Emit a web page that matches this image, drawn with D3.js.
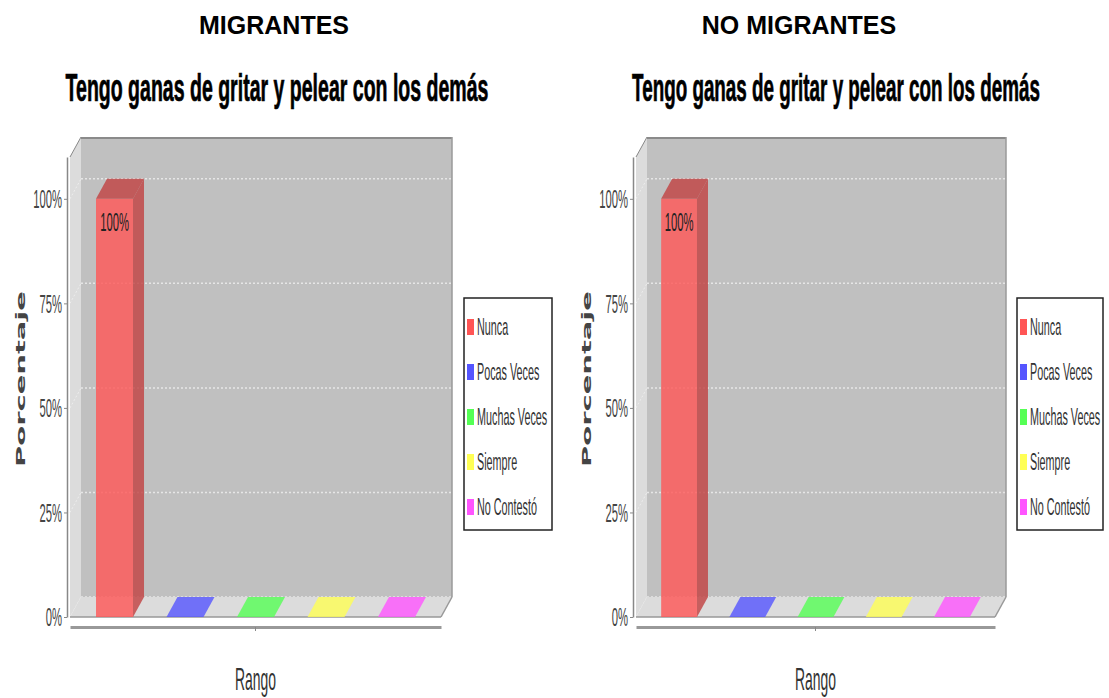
<!DOCTYPE html>
<html><head><meta charset="utf-8">
<script src="https://cdn.jsdelivr.net/npm/d3@7"></script>
<style>body{margin:0;background:#fff}svg{display:block}</style>
</head><body>
<svg id="c" width="1109" height="698"></svg>
<script>
const categories = ["Nunca", "Pocas Veces", "Muchas Veces", "Siempre", "No Contestó"];
const migrantesValues = [100, 0, 0, 0, 0];
const noMigrantesValues = [100, 0, 0, 0, 0];
const seriesColors = ["#ff5555", "#5555ff", "#55ff55", "#ffff55", "#ff55ff"];
const yTickValues = [0, 25, 50, 75, 100];
const yTickLabels = ["0%", "25%", "50%", "75%", "100%"];
const headings = ["MIGRANTES", "NO MIGRANTES"];
const chartTitle = "Tengo ganas de gritar y pelear con los demás";
const yAxisLabel = "Porcentaje";
const xAxisLabel = "Rango";
const yMax = 110;

const svg = d3.select("#c");
const SX = 0.45;
const FONT = "'Liberation Sans', Arial, sans-serif";

function cText(g, x, y, txt, size, anchor, color) {
  return g.append("text")
    .attr("transform", `translate(${x},${y}) scale(${SX},1)`)
    .attr("text-anchor", anchor)
    .attr("font-family", FONT)
    .attr("font-size", size)
    .attr("fill", color)
    .text(txt);
}

function drawChart(values, heading, L) {
  const g = svg.append("g");
  const dx = 11, dy = 20;
  const y = d3.scaleLinear().domain([0, yMax]).range([617, 157]);
  const xb = d3.scaleBand().domain(categories).range([L.x0, L.x1]).paddingInner(0.475).paddingOuter(0.369);
  const outer = d3.scaleBand().domain([xAxisLabel]).range([L.x0, L.x1]);
  const y0 = y(0), yT = y(yMax);

  // heading
  g.append("text").attr("x", L.headX).attr("y", 34).attr("text-anchor", "middle")
    .attr("font-family", FONT).attr("font-weight", "bold").attr("font-size", 25)
    .attr("fill", "#000").text(heading);
  // title (scaled horizontally to fit its width)
  const tt = g.append("text").attr("text-anchor", "middle")
    .attr("font-family", FONT).attr("font-weight", "bold").attr("font-size", 38)
    .attr("fill", "#000").attr("stroke", "#000").attr("stroke-width", 0.7).text(chartTitle);
  const natW = tt.node().getComputedTextLength();
  tt.attr("transform", `translate(${L.titleX},101) scale(${L.titleW / natW},1)`);

  // side wall
  g.append("path").attr("d", d3.line()([[L.x0, y0], [L.x0, yT], [L.x0 + dx, yT - dy], [L.x0 + dx, y0 - dy]]) + "Z")
    .attr("fill", "#dcdcdc");
  // back wall
  g.append("rect").attr("x", L.x0 + dx).attr("y", yT - dy).attr("width", L.x1 - L.x0).attr("height", y0 - yT)
    .attr("fill", "#c0c0c0");
  g.append("line").attr("x1", L.x0 + dx).attr("x2", L.x1 + dx).attr("y1", yT - dy + 1).attr("y2", yT - dy + 1)
    .attr("stroke", "#8a8a8a").attr("stroke-width", 2);
  g.append("line").attr("x1", L.x1 + dx).attr("x2", L.x1 + dx).attr("y1", yT - dy).attr("y2", y0 - dy)
    .attr("stroke", "#9a9a9a").attr("stroke-width", 1.5);
  g.append("line").attr("x1", L.x0).attr("x2", L.x0 + dx).attr("y1", yT).attr("y2", yT - dy)
    .attr("stroke", "#888").attr("stroke-width", 1);
  // gridlines
  yTickValues.forEach(t => {
    g.append("line").attr("x1", L.x0 + dx).attr("x2", L.x1 + dx).attr("y1", y(t) - dy).attr("y2", y(t) - dy)
      .attr("stroke", "#e6e6e6").attr("stroke-width", 1.5).attr("stroke-dasharray", "2,2");
    g.append("line").attr("x1", L.x0).attr("x2", L.x0 + dx).attr("y1", y(t)).attr("y2", y(t) - dy)
      .attr("stroke", "#ededed").attr("stroke-width", 1).attr("stroke-dasharray", "2,2");
  });
  // floor
  g.append("path").attr("d", d3.line()([[L.x0, y0], [L.x1, y0], [L.x1 + dx, y0 - dy], [L.x0 + dx, y0 - dy]]) + "Z")
    .attr("fill", "#dcdcdc");
  g.append("line").attr("x1", L.x0).attr("x2", L.x1).attr("y1", y0).attr("y2", y0).attr("stroke", "#999").attr("stroke-width", 1.5);
  g.append("line").attr("x1", L.x1).attr("x2", L.x1 + dx).attr("y1", y0).attr("y2", y0 - dy).attr("stroke", "#999").attr("stroke-width", 1.5);

  // bars
  categories.forEach((c, i) => {
    const v = values[i];
    const bx = xb(c), w = xb.bandwidth(), yt = y(v);
    const col = seriesColors[i];
    const dark = d3.color(col).darker(0.8).formatHex();
    g.append("rect").attr("x", bx).attr("y", yt).attr("width", w).attr("height", y0 - yt)
      .attr("fill", col).attr("fill-opacity", 0.8);
    g.append("path").attr("d", d3.line()([[bx, yt], [bx + dx, yt - dy], [bx + w + dx, yt - dy], [bx + w, yt]]) + "Z")
      .attr("fill", v > 0 ? dark : col).attr("fill-opacity", 0.8);
    if (v > 0) {
      g.append("path").attr("d", d3.line()([[bx + w, yt], [bx + w + dx, yt - dy], [bx + w + dx, y0 - dy], [bx + w, y0]]) + "Z")
        .attr("fill", dark).attr("fill-opacity", 0.8);
      cText(g, bx + w / 2, yt + 32, v + "%", 25, "middle", "#222");
    }
  });

  // y axis
  const ya = g.append("g").attr("transform", `translate(${L.axisX},0)`)
    .call(d3.axisLeft(y).tickValues(yTickValues).tickFormat((d, i) => yTickLabels[i]).tickSize(3).tickSizeOuter(0));
  ya.select(".domain").attr("stroke", "#888").attr("stroke-width", 1.5);
  ya.selectAll(".tick line").attr("stroke", "#888");
  ya.selectAll(".tick text").attr("x", null).attr("dy", "0.35em")
    .attr("transform", `translate(-5,0) scale(${SX},1)`)
    .attr("font-family", FONT).attr("font-size", 25).attr("fill", "#444");

  // x axis
  const xa = g.append("g").attr("transform", `translate(0,627)`)
    .call(d3.axisBottom(outer).tickFormat("").tickSize(4).tickSizeOuter(0));
  xa.select(".domain").attr("stroke", "#999").attr("stroke-width", 3);
  xa.selectAll(".tick line").attr("stroke", "#888");

  // axis labels
  cText(g, (L.x0 + L.x1) / 2, 690, xAxisLabel, 31, "middle", "#333");
  g.append("text").attr("transform", `translate(${L.ylabX},${379}) scale(${SX},1) rotate(-90)`)
    .attr("text-anchor", "middle").attr("font-family", "'DejaVu Sans', Verdana, sans-serif")
    .attr("font-weight", "bold").attr("font-size", 29).attr("fill", "#444").text(yAxisLabel);

  // legend
  const lg = g.append("g");
  lg.append("rect").attr("x", L.legX).attr("y", 298).attr("width", L.legW).attr("height", 232)
    .attr("fill", "#fff").attr("stroke", "#222").attr("stroke-width", 1.5);
  categories.forEach((c, i) => {
    const cy = 327 + i * 45;
    lg.append("rect").attr("x", L.legX + 3).attr("y", cy - 8).attr("width", 7).attr("height", 16)
      .attr("fill", seriesColors[i]);
    cText(lg, L.legX + 13, cy + 8, c, 24, "start", "#333");
  });
}

drawChart(migrantesValues, headings[0], {x0: 70, x1: 441, axisX: 67, headX: 274, titleX: 277, titleW: 423, ylabX: 25, legX: 464, legW: 88});
drawChart(noMigrantesValues, headings[1], {x0: 636, x1: 995, axisX: 633, headX: 799, titleX: 836, titleW: 408, ylabX: 591, legX: 1017, legW: 86});
</script>
</body></html>
